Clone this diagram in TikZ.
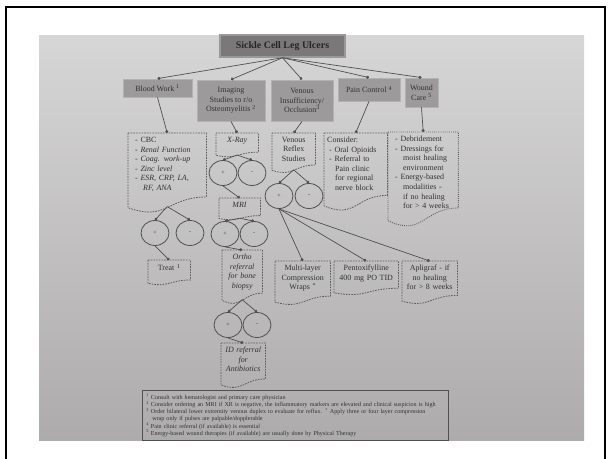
\documentclass[tikz,border=0pt]{standalone}
\usepackage{fontspec}
\setmainfont{Liberation Serif}
\usetikzlibrary{shapes.geometric,arrows.meta,calc}
\definecolor{paperT}{HTML}{D7D6D6}
\definecolor{paperB}{HTML}{ADABAB}
\definecolor{boxfill}{HTML}{9C9A9A}
\definecolor{boxedge}{HTML}{B3B1B1}
\definecolor{titlefill}{HTML}{7A7878}
\definecolor{titleedge}{HTML}{9A9898}
\definecolor{txt}{HTML}{333333}
\definecolor{linec}{HTML}{505050}
\definecolor{dashc}{HTML}{5E5E5E}
\newcommand\itm{\hspace*{4bp}-\ }
\newcommand\docshape[3][dashline]{%
  \draw[#1] (#2.north west) -- (#2.north east) -- ($(#2.north east)+(0,{0.80*#3})$)
    .. controls ($(#2.north)+(0,{0.80*#3})$) and ($(#2.north)+(0,{1.108*#3})$) ..
    ($(#2.north west)+(0,{0.934*#3})$) -- cycle;
  \coordinate (#2-b) at ($(#2.north)+(0,{0.92*#3})$);
}
\begin{document}
\begin{tikzpicture}[x=1bp,y=-1bp,
  conn/.style={draw=linec, line width=0.7bp, -{Circle[length=3bp]}},
  titlebox/.style={rectangle, fill=titlefill, draw=titleedge, line width=1.5bp, minimum width=125bp, minimum height=22bp, text=black!85, font=\bfseries\fontsize{10}{12}\selectfont},
  lvl/.style={rectangle, fill=boxfill, draw=boxedge, line width=0.8bp, text=txt, font=\fontsize{8}{9.6}\selectfont, align=center, inner sep=1bp},
  doctext/.style={rectangle, inner xsep=3bp, inner ysep=4bp, text=txt, font=\fontsize{8}{9.6}\selectfont, anchor=north west},
  dashline/.style={draw=dashc, line width=0.8bp, dash pattern=on 1.6bp off 1.1bp},
  dotline/.style={draw=dashc, line width=0.9bp, dash pattern=on 0.9bp off 1.2bp},
  pm/.style={ellipse, draw=linec, line width=0.8bp, minimum width=28bp, minimum height=25bp, inner sep=0pt, text=txt, font=\fontsize{6}{6}\selectfont},
  legend/.style={rectangle, draw=linec, line width=0.6bp, anchor=north west, text width=298bp, align=left, inner xsep=4bp, inner ysep=3bp, minimum height=50bp, text=txt, font=\fontsize{6.1}{7.2}\selectfont},
]
\useasboundingbox (0,0) rectangle (612,459);
\fill[white] (0,0) rectangle (612,459);
\draw[black, line width=2bp] (6,459) -- (6,7) -- (605,7) -- (605,459);
\fill[top color=paperT, bottom color=paperB] (39,36) rectangle (584,440);

% title and first level
\node[titlebox] (title) at (282.5,46) {Sickle Cell Leg Ulcers};
\node[lvl, minimum width=69bp, minimum height=18bp] (bw) at (157.5,88) {Blood Work \textsuperscript{1}};
\node[lvl, minimum width=68bp, minimum height=41bp] (img) at (231,100.5) {Imaging\\Studies to r/o\\Osteomyelitis \textsuperscript{2}};
\node[lvl, minimum width=62bp, minimum height=41bp] (ven) at (302,100.5) {Venous\\Insufficiency/\\Occlusion\textsuperscript{3}};
\node[lvl, minimum width=62bp, minimum height=23bp] (pain) at (369,89.5) {Pain Control \textsuperscript{4}};
\node[lvl, minimum width=33bp, minimum height=29bp] (wound) at (421.5,92.5) {Wound\\Care \textsuperscript{5}};

% document boxes
\node[doctext, text width=72bp, align=left] (bwlist) at (128,133) {\itm CBC\\\itm\textit{Renal Function}\\\itm\textit{Coag. work-up}\\\itm\textit{Zinc level}\\\itm\textit{ESR, CRP, LA,}\\\hspace*{12bp}\textit{RF, ANA}};
\node[doctext, text width=36bp, align=center] (xray) at (216,133) {\textit{X-Ray}};
\node[doctext, text width=37bp, align=center] (vrs) at (272,133) {Venous\\Reflex\\Studies};
\node[doctext, text width=57bp, align=left] (consider) at (324,133) {Consider:\\\hspace*{2bp}- Oral Opioids\\\hspace*{2bp}- Referral to\\\hspace*{8bp}Pain clinic\\\hspace*{8bp}for regional\\\hspace*{8bp}nerve block};
\node[doctext, text width=64bp, align=left] (woundlist) at (388,132) {\itm Debridement\\\itm Dressings for\\\hspace*{12bp}moist healing\\\hspace*{12bp}environment\\\itm Energy-based\\\hspace*{12bp}modalities -\\\hspace*{12bp}if no healing\\\hspace*{12bp}for > 4 weeks};
\node[doctext, text width=35bp, align=center] (mri) at (219,198) {\textit{MRI}};
\node[doctext, text width=36bp, align=center] (treat) at (148,260) {Treat \textsuperscript{1}};
\node[doctext, text width=34bp, align=center] (ortho) at (222,250) {\textit{Ortho}\\\textit{referral}\\\textit{for bone}\\\textit{biopsy}};
\node[doctext, text width=38bp, align=center] (idref) at (221,343) {\textit{ID referral}\\\textit{for}\\\textit{Antibiotics}};
\node[doctext, text width=49bp, align=center] (multi) at (275,261) {Multi-layer\\Compression\\Wraps \textsuperscript{*}};
\node[doctext, text width=58bp, align=center] (pentox) at (334,261) {Pentoxifylline\\400 mg PO TID};
\node[doctext, text width=49bp, align=center] (aplig) at (402,261) {Apligraf - if\\no healing\\for > 8 weeks};

\docshape{bwlist}{80}
\docshape{xray}{24}
\docshape{vrs}{40}
\docshape{consider}{78}
\docshape[dotline]{woundlist}{95}
\docshape{mri}{22}
\docshape{treat}{25}
\docshape{ortho}{54}
\docshape{idref}{45}
\docshape{multi}{44}
\docshape{pentox}{34}
\docshape{aplig}{43}

% plus / minus circles
\node[pm] (xrp) at (223,173) {+};
\node[pm] (xrm) at (252,173) {-};
\node[pm] (vrp) at (279,196) {+};
\node[pm] (vrm) at (309,196) {-};
\node[pm] (bwp) at (155,233) {+};
\node[pm] (bwm) at (190,233) {-};
\node[pm] (mrip) at (225,234) {+};
\node[pm] (mrim) at (254,234) {-};
\node[pm] (orp) at (228,325) {+};
\node[pm] (orm) at (257,325) {-};

% connectors
\foreach \n in {bw,img,ven,pain,wound} \draw[conn] (title.south) -- (\n.north);
\draw[conn] (bw.south) -- (bwlist.north);
\draw[conn] (img.south) -- (xray.north);
\draw[conn] (ven.south) -- (vrs.north);
\draw[conn] (pain.south) -- (consider.north);
\draw[conn] (wound.south) -- (woundlist.north);

\draw[conn] (xray-b) -- (xrp.north);
\draw[conn] (xray-b) -- (xrm.north);
\draw[conn] (vrs-b) -- (vrp.north);
\draw[conn] (vrs-b) -- (vrm.north);
\draw[conn] (bwlist-b) -- (bwp.north);
\draw[conn] (bwlist-b) -- (bwm.north);
\draw[conn] (mri-b) -- (mrip.north);
\draw[conn] (mri-b) -- (mrim.north);
\draw[conn] (ortho-b) -- (orp.north);
\draw[conn] (ortho-b) -- (orm.north);

\draw[conn] (xrp.south) -- (mri.north);
\draw[conn] (mrip.south) -- (ortho.north);
\draw[conn] (orp.south) -- (idref.north);
\draw[conn] (bwp.south) -- (treat.north);
\draw[conn] (vrp.south) -- (multi.north);
\draw[conn] (vrp.south) -- (pentox.north);
\draw[conn] (vrp.south) -- (aplig.north);

% legend
\node[legend] (legend) at (142,390) {\textsuperscript{1} Consult with hematologist and primary care physician\\
\textsuperscript{2} Consider ordering an MRI if XR is negative, the inflammatory markers are elevated and clinical suspicion is high\\
\textsuperscript{3} Order bilateral lower extremity venous duplex to evaluate for reflux. \textsuperscript{*} Apply three or four layer compression\\
\hspace*{6bp}wrap only if pulses are palpable/dopplerable\\
\textsuperscript{4} Pain clinic referral (if available) is essential\\
\textsuperscript{5} Energy-based wound therapies (if available) are usually done by Physical Therapy};
\end{tikzpicture}
\end{document}
